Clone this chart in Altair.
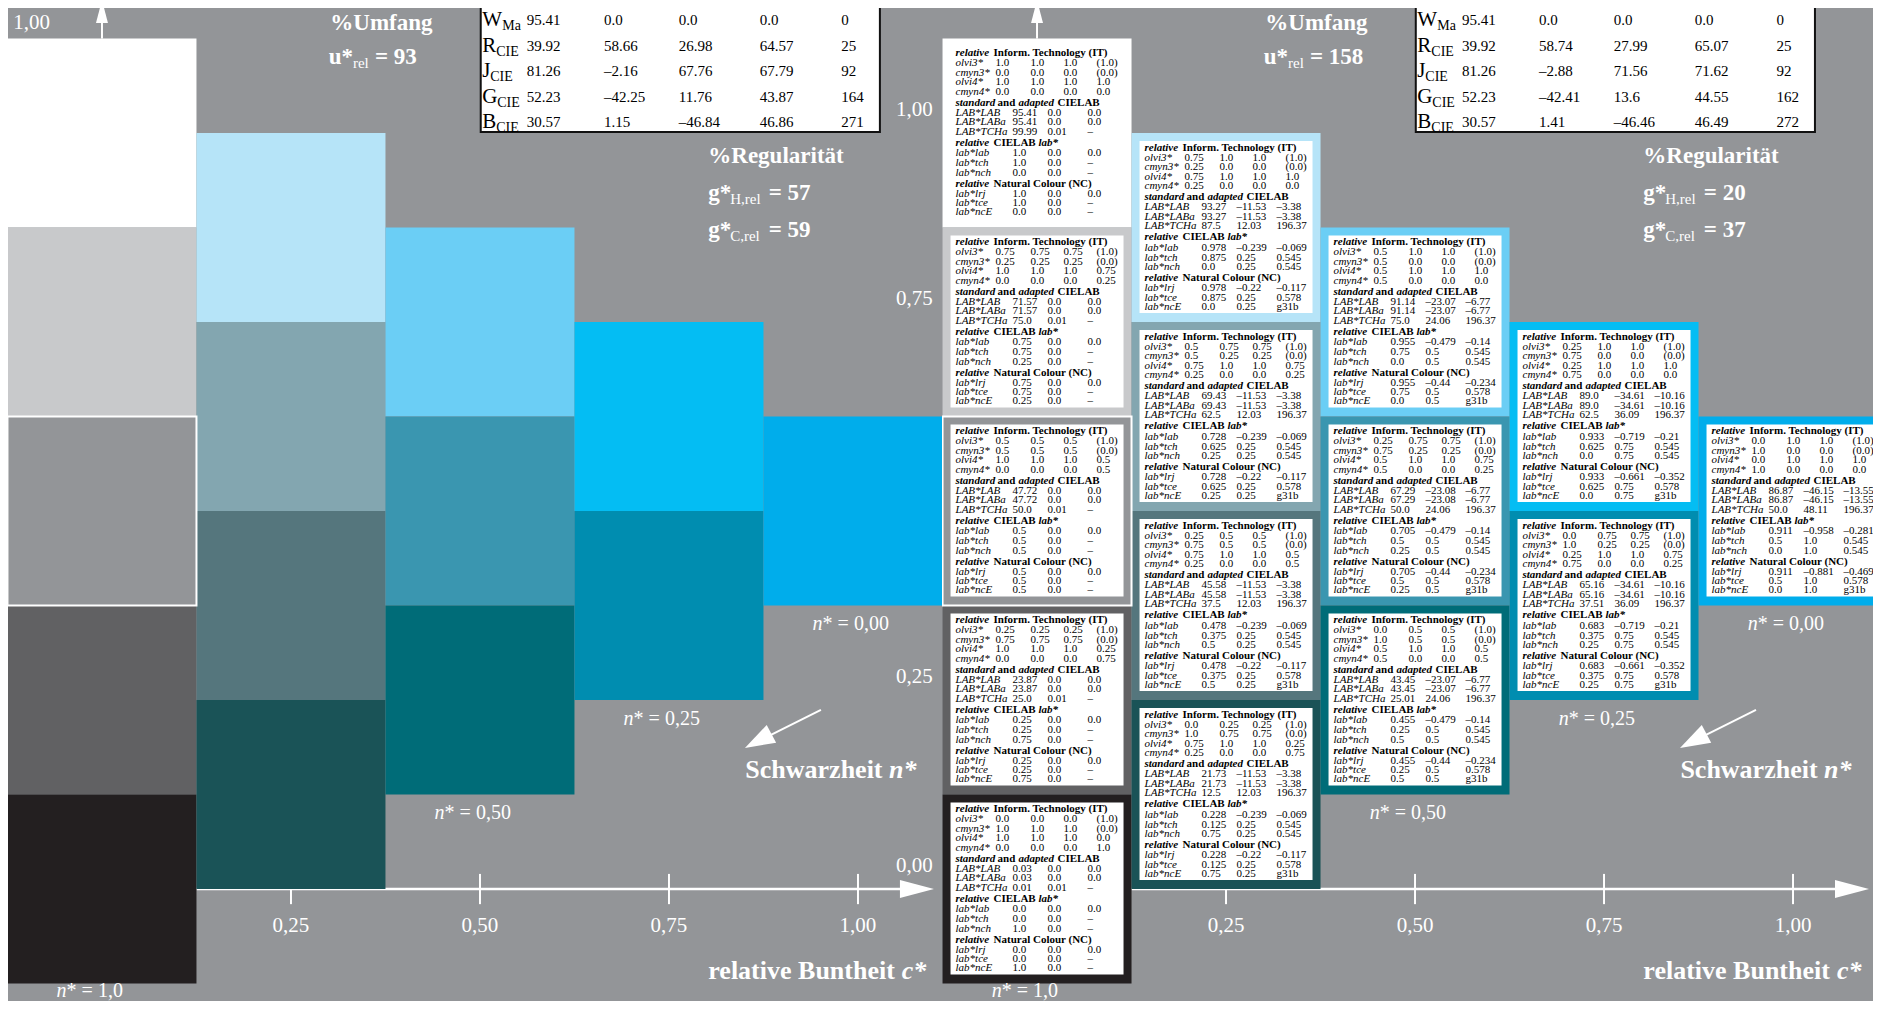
import altair as alt
import pandas as pd

BG = "#939598"
FONT = "Liberation Serif"
PX = 1 / 756.0  # data units per screen pixel (one sample = 0.25 = 189 px)

# ---------------- colour samples (relative chroma c*, blackness n*) ----------------
cell_c = [0.0, 0.0, 0.0, 0.0, 0.0, 0.25, 0.25, 0.25, 0.25, 0.5, 0.5, 0.5, 0.75, 0.75, 1.0]
cell_n = [0.0, 0.25, 0.5, 0.75, 1.0, 0.0, 0.25, 0.5, 0.75, 0.0, 0.25, 0.5, 0.0, 0.25, 0.0]
cell_color = ["#ffffff", "#c8c9cb", "#939598", "#616163", "#231f20",
              "#b6e4f8", "#83a6b0", "#55767d", "#1a5357",
              "#6bcef5", "#3a96b0", "#006c78",
              "#04bdf3", "#008db0",
              "#00adeb"]

# ---------------- table row labels ----------------
it_labels = ["olvi3*", "cmyn3*", "olvi4*", "cmyn4*"]
lab_labels = ["LAB*LAB", "LAB*LABa", "LAB*TCHa"]
rel_labels = ["lab*lab", "lab*tch", "lab*nch"]
nc_labels = ["lab*lrj", "lab*tce", "lab*ncE"]

# ---------------- one table per sample (same order as cell_c / cell_n) ----------------
t00 = ["1.0 1.0 1.0 (1.0)", "0.0 0.0 0.0 (0.0)", "1.0 1.0 1.0 1.0", "0.0 0.0 0.0 0.0",
       "95.41 0.0 0.0", "95.41 0.0 0.0", "99.99 0.01 –",
       "1.0 0.0 0.0", "1.0 0.0 –", "0.0 0.0 –",
       "1.0 0.0 0.0", "1.0 0.0 –", "0.0 0.0 –"]
t01 = ["0.75 0.75 0.75 (1.0)", "0.25 0.25 0.25 (0.0)", "1.0 1.0 1.0 0.75", "0.0 0.0 0.0 0.25",
       "71.57 0.0 0.0", "71.57 0.0 0.0", "75.0 0.01 –",
       "0.75 0.0 0.0", "0.75 0.0 –", "0.25 0.0 –",
       "0.75 0.0 0.0", "0.75 0.0 –", "0.25 0.0 –"]
t02 = ["0.5 0.5 0.5 (1.0)", "0.5 0.5 0.5 (0.0)", "1.0 1.0 1.0 0.5", "0.0 0.0 0.0 0.5",
       "47.72 0.0 0.0", "47.72 0.0 0.0", "50.0 0.01 –",
       "0.5 0.0 0.0", "0.5 0.0 –", "0.5 0.0 –",
       "0.5 0.0 0.0", "0.5 0.0 –", "0.5 0.0 –"]
t03 = ["0.25 0.25 0.25 (1.0)", "0.75 0.75 0.75 (0.0)", "1.0 1.0 1.0 0.25", "0.0 0.0 0.0 0.75",
       "23.87 0.0 0.0", "23.87 0.0 0.0", "25.0 0.01 –",
       "0.25 0.0 0.0", "0.25 0.0 –", "0.75 0.0 –",
       "0.25 0.0 0.0", "0.25 0.0 –", "0.75 0.0 –"]
t04 = ["0.0 0.0 0.0 (1.0)", "1.0 1.0 1.0 (0.0)", "1.0 1.0 1.0 0.0", "0.0 0.0 0.0 1.0",
       "0.03 0.0 0.0", "0.03 0.0 0.0", "0.01 0.01 –",
       "0.0 0.0 0.0", "0.0 0.0 –", "1.0 0.0 –",
       "0.0 0.0 0.0", "0.0 0.0 –", "1.0 0.0 –"]
t10 = ["0.75 1.0 1.0 (1.0)", "0.25 0.0 0.0 (0.0)", "0.75 1.0 1.0 1.0", "0.25 0.0 0.0 0.0",
       "93.27 –11.53 –3.38", "93.27 –11.53 –3.38", "87.5 12.03 196.37",
       "0.978 –0.239 –0.069", "0.875 0.25 0.545", "0.0 0.25 0.545",
       "0.978 –0.22 –0.117", "0.875 0.25 0.578", "0.0 0.25 g31b"]
t11 = ["0.5 0.75 0.75 (1.0)", "0.5 0.25 0.25 (0.0)", "0.75 1.0 1.0 0.75", "0.25 0.0 0.0 0.25",
       "69.43 –11.53 –3.38", "69.43 –11.53 –3.38", "62.5 12.03 196.37",
       "0.728 –0.239 –0.069", "0.625 0.25 0.545", "0.25 0.25 0.545",
       "0.728 –0.22 –0.117", "0.625 0.25 0.578", "0.25 0.25 g31b"]
t12 = ["0.25 0.5 0.5 (1.0)", "0.75 0.5 0.5 (0.0)", "0.75 1.0 1.0 0.5", "0.25 0.0 0.0 0.5",
       "45.58 –11.53 –3.38", "45.58 –11.53 –3.38", "37.5 12.03 196.37",
       "0.478 –0.239 –0.069", "0.375 0.25 0.545", "0.5 0.25 0.545",
       "0.478 –0.22 –0.117", "0.375 0.25 0.578", "0.5 0.25 g31b"]
t13 = ["0.0 0.25 0.25 (1.0)", "1.0 0.75 0.75 (0.0)", "0.75 1.0 1.0 0.25", "0.25 0.0 0.0 0.75",
       "21.73 –11.53 –3.38", "21.73 –11.53 –3.38", "12.5 12.03 196.37",
       "0.228 –0.239 –0.069", "0.125 0.25 0.545", "0.75 0.25 0.545",
       "0.228 –0.22 –0.117", "0.125 0.25 0.578", "0.75 0.25 g31b"]
t20 = ["0.5 1.0 1.0 (1.0)", "0.5 0.0 0.0 (0.0)", "0.5 1.0 1.0 1.0", "0.5 0.0 0.0 0.0",
       "91.14 –23.07 –6.77", "91.14 –23.07 –6.77", "75.0 24.06 196.37",
       "0.955 –0.479 –0.14", "0.75 0.5 0.545", "0.0 0.5 0.545",
       "0.955 –0.44 –0.234", "0.75 0.5 0.578", "0.0 0.5 g31b"]
t21 = ["0.25 0.75 0.75 (1.0)", "0.75 0.25 0.25 (0.0)", "0.5 1.0 1.0 0.75", "0.5 0.0 0.0 0.25",
       "67.29 –23.08 –6.77", "67.29 –23.08 –6.77", "50.0 24.06 196.37",
       "0.705 –0.479 –0.14", "0.5 0.5 0.545", "0.25 0.5 0.545",
       "0.705 –0.44 –0.234", "0.5 0.5 0.578", "0.25 0.5 g31b"]
t22 = ["0.0 0.5 0.5 (1.0)", "1.0 0.5 0.5 (0.0)", "0.5 1.0 1.0 0.5", "0.5 0.0 0.0 0.5",
       "43.45 –23.07 –6.77", "43.45 –23.07 –6.77", "25.01 24.06 196.37",
       "0.455 –0.479 –0.14", "0.25 0.5 0.545", "0.5 0.5 0.545",
       "0.455 –0.44 –0.234", "0.25 0.5 0.578", "0.5 0.5 g31b"]
t30 = ["0.25 1.0 1.0 (1.0)", "0.75 0.0 0.0 (0.0)", "0.25 1.0 1.0 1.0", "0.75 0.0 0.0 0.0",
       "89.0 –34.61 –10.16", "89.0 –34.61 –10.16", "62.5 36.09 196.37",
       "0.933 –0.719 –0.21", "0.625 0.75 0.545", "0.0 0.75 0.545",
       "0.933 –0.661 –0.352", "0.625 0.75 0.578", "0.0 0.75 g31b"]
t31 = ["0.0 0.75 0.75 (1.0)", "1.0 0.25 0.25 (0.0)", "0.25 1.0 1.0 0.75", "0.75 0.0 0.0 0.25",
       "65.16 –34.61 –10.16", "65.16 –34.61 –10.16", "37.51 36.09 196.37",
       "0.683 –0.719 –0.21", "0.375 0.75 0.545", "0.25 0.75 0.545",
       "0.683 –0.661 –0.352", "0.375 0.75 0.578", "0.25 0.75 g31b"]
t40 = ["0.0 1.0 1.0 (1.0)", "1.0 0.0 0.0 (0.0)", "0.0 1.0 1.0 1.0", "1.0 0.0 0.0 0.0",
       "86.87 –46.15 –13.55", "86.87 –46.15 –13.55", "50.0 48.11 196.37",
       "0.911 –0.958 –0.281", "0.5 1.0 0.545", "0.0 1.0 0.545",
       "0.911 –0.881 –0.469", "0.5 1.0 0.578", "0.0 1.0 g31b"]
tables = [t00, t01, t02, t03, t04, t10, t11, t12, t13, t20, t21, t22, t30, t31, t40]

# ---------------- summary tables at the top ----------------
top_letters = ["W", "R", "J", "G", "B"]
top_subs = ["Ma", "CIE", "CIE", "CIE", "CIE"]
top_vals_left = [["95.41", "0.0", "0.0", "0.0", "0"],
                 ["39.92", "58.66", "26.98", "64.57", "25"],
                 ["81.26", "–2.16", "67.76", "67.79", "92"],
                 ["52.23", "–42.25", "11.76", "43.87", "164"],
                 ["30.57", "1.15", "–46.84", "46.86", "271"]]
top_vals_right = [["95.41", "0.0", "0.0", "0.0", "0"],
                  ["39.92", "58.74", "27.99", "65.07", "25"],
                  ["81.26", "–2.88", "71.56", "71.62", "92"],
                  ["52.23", "–42.41", "13.6", "44.55", "162"],
                  ["30.57", "1.41", "–46.46", "46.49", "272"]]
u_rel = [93, 158]
g_H_rel = [57, 20]
g_C_rel = [59, 37]

x_ticks = [0.25, 0.5, 0.75, 1.0]
x_tick_labels = ["0,25", "0,50", "0,75", "1,00"]
y_ticks = [1.0, 0.75, 0.5, 0.25, 0.0]
y_tick_labels = ["1,00", "0,75", "0,50", "0,25", "0,00"]

# ---------------- layout ----------------
WIDTHS = [934, 931]
HEIGHT = 993
X_SCALES = [alt.Scale(domain=[-0.1243, -0.1243 + 934 * PX], nice=False, zero=False),
            alt.Scale(domain=[-0.1257, -0.1257 + 931 * PX], nice=False, zero=False)]
YS = alt.Scale(domain=[-0.1481, -0.1481 + 993 * PX], nice=False, zero=False)

LINE_OFF = [14.5, 24.5, 34, 43.5, 53, 64, 74, 83.5, 93, 104, 114.5, 124.5, 134, 145, 155, 164.5, 173.5]
HEADERS = [
    [("relative", "bi", 0), ("Inform. Technology (IT)", "b", 38)],
    [("standard", "bi", 0), ("and", "b", 42), ("adapted", "bi", 63), ("CIELAB", "b", 102)],
    [("relative", "bi", 0), ("CIELAB", "b", 38), ("lab*", "bi", 83)],
    [("relative", "bi", 0), ("Natural Colour (NC)", "b", 38)],
]
SECTIONS = [(it_labels, [40, 75, 108, 141]), (lab_labels, [57, 92, 132]),
            (rel_labels, [57, 92, 132]), (nc_labels, [57, 92, 132])]
TSIZE = 11

cells = pd.DataFrame({"c": cell_c, "n": cell_n, "color": cell_color})
cells["l"] = 1.0 - cells["n"] - cells["c"] / 2.0
cells["x0"] = cells["c"] - 0.125
cells["x1"] = cells["c"] + 0.125
cells["y0"] = cells["l"] - 0.125
cells["y1"] = cells["l"] + 0.125

boxes = cells.copy()
boxes["x0"] = boxes["x0"] + 8 * PX
boxes["x1"] = boxes["x1"] - 8 * PX
boxes["y0"] = boxes["y0"] + 9 * PX
boxes["y1"] = boxes["y1"] - 8 * PX


def row(text, x, y, style, size, color, align="left"):
    return dict(text=text, x=x, y=y, style=style, size=size, color=color, align=align)


def table_texts():
    rows = []
    for c, n, tab in zip(cell_c, cell_n, tables):
        l = 1.0 - n - c / 2.0
        x_lab = c - 0.125 + 13 * PX
        top = l + 0.125
        line = 0
        k = 0
        for head, (labels, cols) in zip(HEADERS, SECTIONS):
            y = top - LINE_OFF[line] * PX
            for txt, st, off in head:
                rows.append(row(txt, x_lab + off * PX, y, st, TSIZE, "#000000"))
            line += 1
            for lab in labels:
                y = top - LINE_OFF[line] * PX
                rows.append(row(lab, x_lab, y, "i", TSIZE, "#000000"))
                for v, off in zip(tab[k].split(), cols):
                    rows.append(row(v, x_lab + off * PX, y, "n", TSIZE, "#000000"))
                line += 1
                k += 1
    return pd.DataFrame(rows)


def annotations(side):
    W = "#ffffff"
    r = []
    r.append(row("%Umfang", 0.302, 1.145, "b", 23, W))
    r.append(row("u*", 0.300, 1.101, "b", 23, W))
    r.append(row("rel", 0.332, 1.093, "n", 15, W))
    r.append(row(f"= {u_rel[side]}", 0.361, 1.101, "b", 23, W))
    r.append(row("%Regularität", 0.802, 0.970, "b", 23, W))
    r.append(row("g*", 0.802, 0.921, "b", 23, W))
    r.append(row("H,rel", 0.831, 0.913, "n", 15, W))
    r.append(row(f"= {g_H_rel[side]}", 0.882, 0.921, "b", 23, W))
    r.append(row("g*", 0.802, 0.872, "b", 23, W))
    r.append(row("C,rel", 0.831, 0.864, "n", 15, W))
    r.append(row(f"= {g_C_rel[side]}", 0.882, 0.872, "b", 23, W))
    for (cx, ly, lab) in [(0.940, 0.351, "0,00"), (0.690, 0.225, "0,25"),
                          (0.440, 0.101, "0,50"), (-0.060, -0.135, "1,0")]:
        r.append(row("n", cx, ly, "i", 20, W))
        r.append(row("* = " + lab, cx + 10 * PX, ly, "n", 20, W))
    r.append(row("Schwarzheit", 0.851, 0.157, "b", 26, W))
    r.append(row("n*", 1.041, 0.157, "bi", 26, W))
    r.append(row("relative Buntheit", 0.802, -0.108, "b", 26, W))
    r.append(row("c*", 1.058, -0.108, "bi", 26, W))
    for t, lab in zip(x_ticks, x_tick_labels):
        r.append(row(lab, t, -0.049, "n", 21, W, "center"))
    if side == 0:
        r.append(row("1,00", -0.093, 1.145, "n", 21, W, "center"))
    # summary table
    vals = top_vals_left if side == 0 else top_vals_right
    ys = [1.150, 1.115, 1.082, 1.048, 1.015]
    sub_off = {"W": 20, "R": 14, "J": 8, "G": 15, "B": 14}
    vcols = [0.562, 0.664, 0.763, 0.870, 0.978]
    for let, sub, vrow, y in zip(top_letters, top_subs, vals, ys):
        r.append(row(let, 0.503, y, "n", 21, "#000000"))
        r.append(row(sub, 0.503 + sub_off[let] * PX, y - 6 * PX, "n", 14, "#000000"))
        for v, cx in zip(vrow, vcols):
            r.append(row(v, cx, y, "n", 15, "#000000"))
    return pd.DataFrame(r)


def ylabels():
    r = [row(lab, 1.099, t + 0.03, "n", 21, "#ffffff", "right") for t, lab in zip(y_ticks, y_tick_labels)]
    return pd.DataFrame(r)


def text_layers(df, xs):
    layers = []
    for (style, align), sub in df.groupby(["style", "align"]):
        layers.append(
            alt.Chart(sub).mark_text(
                font=FONT,
                fontStyle="italic" if "i" in style else "normal",
                fontWeight="bold" if "b" in style else "normal",
                align=align, baseline="middle", clip=True,
            ).encode(
                x=alt.X("x:Q", scale=xs, axis=None),
                y=alt.Y("y:Q", scale=YS, axis=None),
                text="text:N",
                size=alt.Size("size:Q", scale=None, legend=None),
                color=alt.Color("color:N", scale=None, legend=None),
            )
        )
    return layers


def rules_df():
    r = [dict(x=0.125, x2=1.06, y=0.0, y2=0.0, w=2.5)]
    for t in x_ticks:
        r.append(dict(x=t, x2=t, y=-0.02, y2=0.02, w=2))
    r.append(dict(x=0.0, x2=0.0, y=1.125, y2=1.15, w=2))
    r.append(dict(x=0.951, x2=0.875, y=0.237, y2=0.199, w=2))
    return pd.DataFrame(r)


def arrow(xs, c, l, shape, size, angle=0):
    return alt.Chart(pd.DataFrame({"x": [c], "y": [l]})).mark_point(
        shape=shape, size=size, angle=angle, filled=True, color="#ffffff",
        opacity=1, strokeWidth=0, clip=True,
    ).encode(x=alt.X("x:Q", scale=xs, axis=None), y=alt.Y("y:Q", scale=YS, axis=None))


def make_panel(side):
    xs = X_SCALES[side]
    X = lambda f: alt.X(f + ":Q", scale=xs, axis=None)
    Y = lambda f: alt.Y(f + ":Q", scale=YS, axis=None)
    layers = []
    if side == 0:
        layers += text_layers(ylabels(), xs)
    layers.append(
        alt.Chart(rules_df()).mark_rule(color="#ffffff", clip=True).encode(
            x=X("x"), x2="x2:Q", y=Y("y"), y2="y2:Q",
            strokeWidth=alt.StrokeWidth("w:Q", scale=None, legend=None))
    )
    layers.append(arrow(xs, 1.078, 0.0, "M-1,-0.53L1,0L-1,0.53Z", 1156))
    layers.append(arrow(xs, 0.0, 1.1607, "M-0.52,1L0,-1L0.52,1Z", 529))
    layers.append(arrow(xs, 0.868, 0.196, "M-1,-0.67L1,0L-1,0.67Z", 900, 152))
    layers.append(
        alt.Chart(cells).mark_rect(clip=True, strokeWidth=0).encode(
            x=X("x0"), x2="x1:Q", y=Y("y0"), y2="y1:Q",
            color=alt.Color("color:N", scale=None, legend=None))
    )
    layers.append(
        alt.Chart(cells[(cells.c == 0) & (cells.n == 0.5)]).mark_rect(
            clip=True, fillOpacity=0, stroke="#ffffff", strokeWidth=2).encode(
            x=X("x0"), x2="x1:Q", y=Y("y0"), y2="y1:Q")
    )
    if side == 1:
        layers.append(
            alt.Chart(boxes).mark_rect(clip=True, color="#ffffff", strokeWidth=0).encode(
                x=X("x0"), x2="x1:Q", y=Y("y0"), y2="y1:Q")
        )
        layers += text_layers(table_texts(), xs)
    # summary box at the top
    box = pd.DataFrame({"x0": [0.501], "x1": [1.029], "y0": [1.0013], "y1": [1.2]})
    layers.append(
        alt.Chart(box).mark_rect(clip=True, color="#ffffff", stroke="#111111", strokeWidth=2).encode(
            x=X("x0"), x2="x1:Q", y=Y("y0"), y2="y1:Q")
    )
    layers += text_layers(annotations(side), xs)
    return alt.layer(*layers).properties(width=WIDTHS[side], height=HEIGHT)


chart = alt.HConcatChart(
    hconcat=[make_panel(0), make_panel(1)],
    spacing=0, bounds="flush", padding=0, background=BG,
).configure_view(strokeWidth=0)

chart.save("out.html", embed_options={"renderer": "svg", "actions": False})
